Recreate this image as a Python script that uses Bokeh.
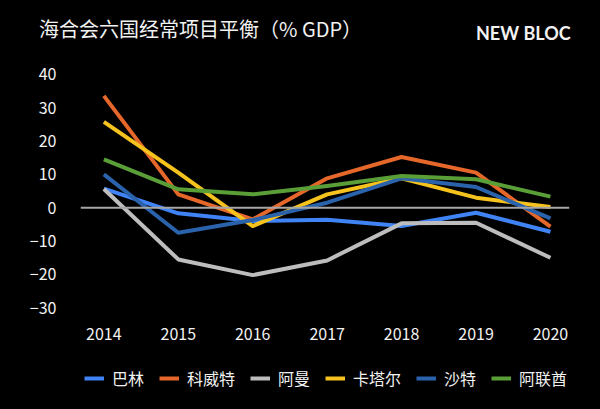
from bokeh.plotting import figure
from bokeh.layouts import column
from bokeh.models import Div, Legend, LegendItem, FixedTicker, Span, ColumnDataSource, Range1d
from bokeh.embed import file_html
from bokeh.resources import INLINE

years = [2014, 2015, 2016, 2017, 2018, 2019, 2020]
bahrain = [5.7, -1.7, -4.0, -3.6, -5.5, -1.5, -7.2]
kuwait = [33.5, 4.0, -3.5, 8.8, 15.2, 10.5, -5.7]
oman = [5.6, -15.5, -20.2, -15.8, -4.7, -4.5, -15.0]
qatar = [25.7, 10.5, -5.5, 4.0, 8.8, 3.0, 0.2]
saudi = [10.0, -7.5, -3.7, 1.5, 8.8, 6.2, -3.2]
uae = [14.5, 5.5, 4.0, 6.5, 9.5, 8.5, 3.3]

series_names = ["巴林", "科威特", "阿曼", "卡塔尔", "沙特", "阿联酋"]
series_values = [bahrain, kuwait, oman, qatar, saudi, uae]
colors = ["#3F83F5", "#E5672A", "#BDBDBD", "#F6C21E", "#2A62AB", "#5A9E38"]
y_ticks = [-30, -20, -10, 0, 10, 20, 30, 40]

title_text = "海合会六国经常项目平衡（% GDP）"
brand_text = "NEW BLOC"

FONT = "Noto Sans CJK SC"
HEAD_H = 50
FOOT_H = 55

# ---- header: title and brand ----
header_html = (
    '<div style="position:relative;width:600px;height:%dpx;background:#000;">'
    '<span style="position:absolute;left:39px;top:19px;font-family:\'%s\';font-size:20px;'
    'line-height:20px;color:#F2F2F2;white-space:nowrap;">%s</span>'
    '<span style="position:absolute;left:476px;top:24px;font-family:Lato;font-weight:bold;'
    'font-size:18px;line-height:18px;color:#F2F2F2;white-space:nowrap;">%s</span>'
    '</div>' % (HEAD_H, FONT, title_text, brand_text)
)
head = Div(text=header_html, width=600, height=HEAD_H, margin=0)

# ---- main chart ----
p = figure(frame_width=489, frame_height=267, output_backend="svg", toolbar_location=None,
           x_range=(2013.686, 2020.256), y_range=(-35, 45),
           min_border_left=80, min_border_right=31, min_border_top=7, min_border_bottom=30)
p.background_fill_color = "black"
p.border_fill_color = "black"
p.outline_line_color = None
p.grid.visible = False

for ax in (p.xaxis[0], p.yaxis[0]):
    ax.axis_line_color = None
    ax.major_tick_line_color = None
    ax.minor_tick_line_color = None
    ax.major_tick_out = 0
    ax.major_tick_in = 0
    ax.major_label_text_color = "#F2F2F2"
    ax.major_label_text_font = FONT
    ax.major_label_text_font_size = "16px"

p.xaxis.ticker = FixedTicker(ticks=years)
p.xaxis.major_label_standoff = 3
p.yaxis.ticker = FixedTicker(ticks=y_ticks)
p.yaxis.major_label_standoff = 24

p.add_layout(Span(location=0, dimension="width", line_color="#A6A6A6", line_width=2))

for vals, c in zip(series_values, colors):
    src = ColumnDataSource(dict(x=years, y=vals))
    p.line("x", "y", source=src, line_color=c, line_width=4, line_join="round")

# ---- footer: legend (its key renderers lie outside the footer's view) ----
foot = figure(frame_width=489, height=FOOT_H, output_backend="svg", toolbar_location=None,
              x_range=Range1d(0, 1), y_range=Range1d(0, 1),
              x_axis_location=None, y_axis_location=None,
              min_border_left=80, min_border_right=31, min_border_top=0, min_border_bottom=0)
foot.background_fill_color = "black"
foot.border_fill_color = "black"
foot.outline_line_color = None
foot.grid.visible = False

items = []
for name, vals, c in zip(series_names, series_values, colors):
    key = foot.line(x=years, y=vals, line_color=c, line_width=4)
    items.append(LegendItem(label=name, renderers=[key]))

legend = Legend(items=items, orientation="horizontal", location=(4, 19),
                glyph_width=20, glyph_height=20, label_height=20, label_standoff=8,
                spacing=15, padding=0, margin=0,
                border_line_color=None, background_fill_alpha=0,
                label_text_color="#F2F2F2", label_text_font=FONT,
                label_text_font_size="16px")
foot.add_layout(legend, "center")

layout = column(head, p, foot, spacing=0)

html = file_html(layout, INLINE)
html = html.replace("<head>", "<head><style>html,body{margin:0;padding:0;background:#000;overflow:hidden;}</style>", 1)
open("out.html", "w").write(html)
